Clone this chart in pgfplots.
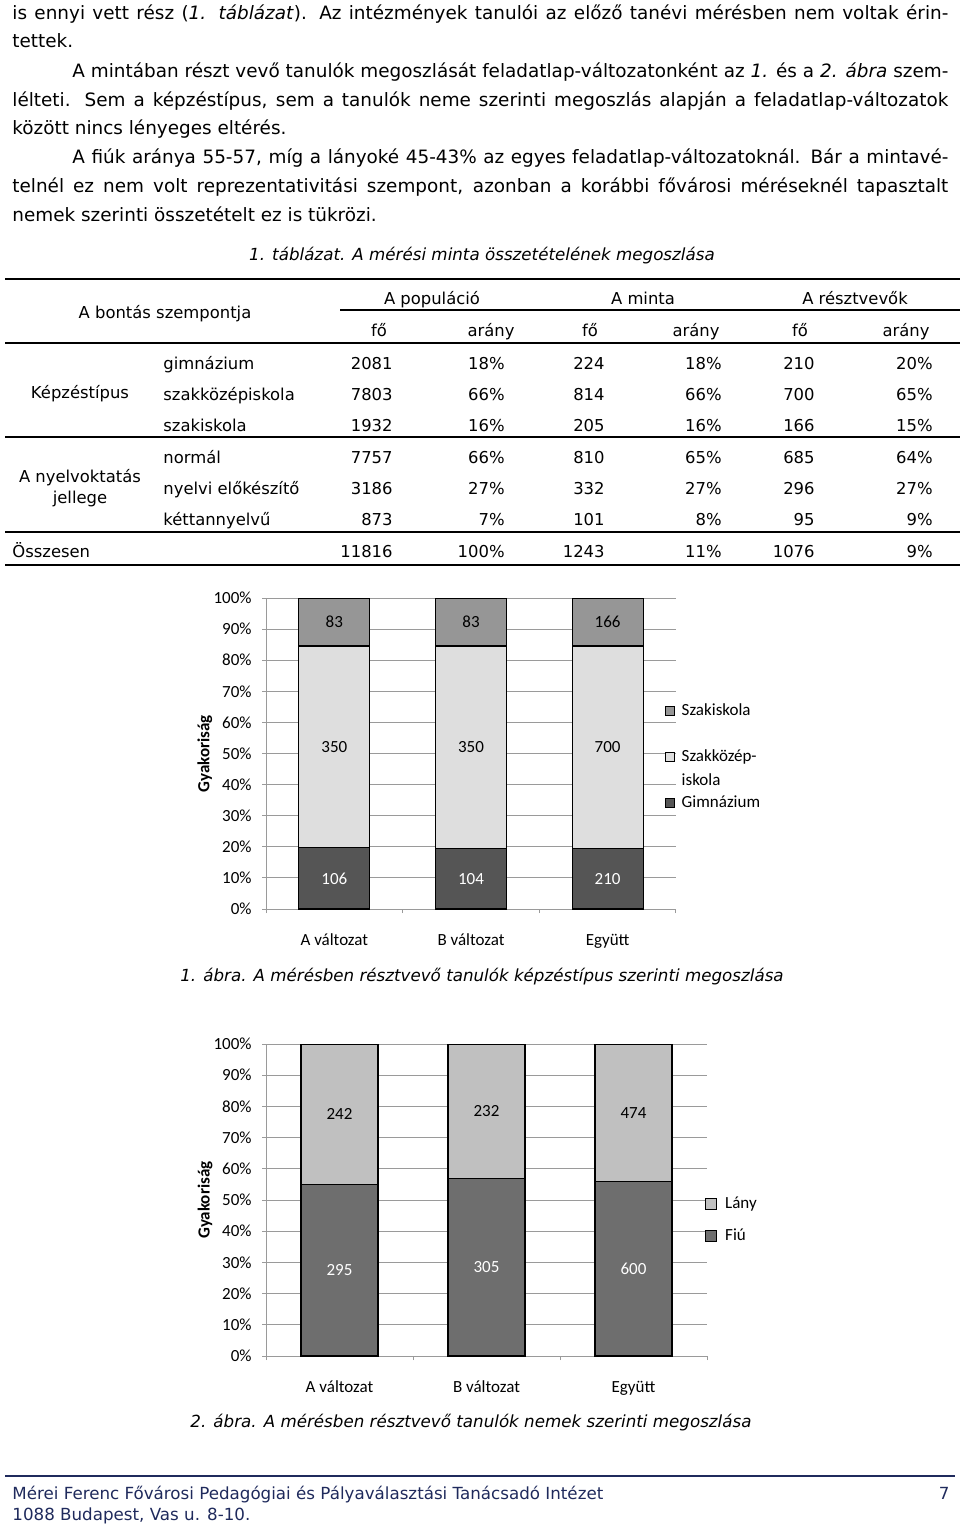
\documentclass[border=0pt]{standalone}
\usepackage{fontspec}
\setmainfont{DejaVu Sans}
\newfontfamily\calibri{Carlito}
\usepackage{pgfplots}
\usepackage{pgfplotstable}
\pgfplotsset{compat=1.18}

\definecolor{gim}{HTML}{555555}
\definecolor{szk}{HTML}{DEDEDE}
\definecolor{szi}{HTML}{969696}
\definecolor{lany}{HTML}{C0C0C0}
\definecolor{fiu}{HTML}{6E6E6E}
\definecolor{gridc}{HTML}{9A9A9A}
\definecolor{navy}{HTML}{1F2A5C}

\newcommand\bodyf{\fontsize{9.2}{11}\selectfont}
\newcommand\tabf{\fontsize{8.2}{10}\selectfont}
\newcommand\capf{\fontsize{8.35}{10}\selectfont}
\newcommand\tickf{\calibri\fontsize{8.5}{12}\selectfont}

\pgfplotstableread{
x g k s
0 106 350 83
1 104 350 83
2 210 700 166
}\tabA
\pgfplotstableread{
x f l
0 295 242
1 305 232
2 600 474
}\tabB

\pgfplotsset{
  chartbase/.style={
    anchor=south west, scale only axis,
    xmin=-0.5, xmax=2.5, ymin=0, ymax=100,
  },
  chartaxis/.style={
    chartbase,
    axis x line*=bottom, axis y line*=left,
    axis line style={gridc, line width=0.5pt},
    ymajorgrids, major grid style={gridc, line width=0.5pt},
    ytick={0,10,...,100},
    yticklabels={0\%,10\%,20\%,30\%,40\%,50\%,60\%,70\%,80\%,90\%,100\%},
    xtick={-0.5,0.5,1.5,2.5}, xticklabels={},
    extra x ticks={0,1,2},
    extra x tick labels={A változat,B változat,Együtt},
    extra x tick style={major tick length=0pt,
      xticklabel style={anchor=base, yshift=-18pt, inner sep=0pt}},
    tick align=outside, major tick length=2pt,
    tick style={gridc, line width=0.5pt},
    tick label style={font=\tickf},
    yticklabel style={anchor=east, inner sep=0pt, xshift=-5pt},
    ylabel={Gyakoriság},
    ylabel style={font=\tickf\bfseries, anchor=center},
    reverse legend,
  },
  lbl/.style={draw=none, nodes near coords, point meta=explicit symbolic,
    nodes near coords align={center},
    every node near coord/.append style={anchor=center, inner sep=0pt, font=\tickf, text=#1}},
}

\begin{document}
\begin{tikzpicture}[x=0.5pt,y=-0.5pt]
\useasboundingbox (0,0) rectangle (960,1526);

% ---------- body text ----------
\node[anchor=base west,inner sep=0] at (12,19) {\bodyf\hbox to 468pt{is ennyi vett rész (\textit{1. táblázat}). Az intézmények tanulói az előző tanévi mérésben nem voltak érin-}};
\node[anchor=base west,inner sep=0] at (12,47) {\bodyf tettek.};
\node[anchor=base west,inner sep=0] at (72,77) {\bodyf\hbox to 438pt{A mintában részt vevő tanulók megoszlását feladatlap-változatonként az \textit{1.} és a \textit{2. ábra} szem-}};
\node[anchor=base west,inner sep=0] at (12,106) {\bodyf\hbox to 468pt{lélteti. Sem a képzéstípus, sem a tanulók neme szerinti megoszlás alapján a feladatlap-változatok}};
\node[anchor=base west,inner sep=0] at (12,134) {\bodyf között nincs lényeges eltérés.};
\node[anchor=base west,inner sep=0] at (72,163) {\bodyf\hbox to 438pt{A fiúk aránya 55-57, míg a lányoké 45-43\% az egyes feladatlap-változatoknál. Bár a mintavé-}};
\node[anchor=base west,inner sep=0] at (12,192) {\bodyf\hbox to 468pt{telnél ez nem volt reprezentativitási szempont, azonban a korábbi fővárosi méréseknél tapasztalt}};
\node[anchor=base west,inner sep=0] at (12,221) {\bodyf nemek szerinti összetételt ez is tükrözi.};

% ---------- table ----------
\node[anchor=base,inner sep=0] at (482,260) {\capf\itshape 1. táblázat. A mérési minta összetételének megoszlása};
\draw[line width=1pt] (5,279) -- (960,279);
\draw[line width=0.6pt] (340,310) -- (960,310);
\draw[line width=0.8pt] (5,343) -- (960,343);
\draw[line width=0.8pt] (5,437) -- (960,437);
\draw[line width=0.8pt] (5,532) -- (960,532);
\draw[line width=1pt] (5,565) -- (960,565);
\begin{scope}[every node/.style={inner sep=0, font=\tabf}]
\node[anchor=base] at (165,318) {A bontás szempontja};
\node[anchor=base] at (432,304) {A populáció};
\node[anchor=base] at (643,304) {A minta};
\node[anchor=base] at (855,304) {A résztvevők};
\foreach \xa/\xb in {379/491,590/696,800/906}{
  \node[anchor=base] at (\xa,336) {fő};
  \node[anchor=base] at (\xb,336) {arány};
}
\node[anchor=base] at (80,398) {Képzéstípus};
\node[anchor=base] at (80,482) {A nyelvoktatás};
\node[anchor=base] at (80,503) {jellege};
\node[anchor=base west] at (12,557) {Összesen};
\foreach \y/\n in {369/gimnázium,400/szakközépiskola,431/szakiskola,463/normál,494/nyelvi előkészítő,525/kéttannyelvű}{
  \node[anchor=base west] at (163,\y) {\n};
}
\foreach \y/\a/\b/\c/\d/\e/\f in {369/2081/18/224/18/210/20,400/7803/66/814/66/700/65,431/1932/16/205/16/166/15,463/7757/66/810/65/685/64,494/3186/27/332/27/296/27,525/873/7/101/8/95/9,557/11816/100/1243/11/1076/9}{
  \node[anchor=base east] at (393,\y) {\a};
  \node[anchor=base east] at (505,\y) {\b\%};
  \node[anchor=base east] at (605,\y) {\c};
  \node[anchor=base east] at (722,\y) {\d\%};
  \node[anchor=base east] at (815,\y) {\e};
  \node[anchor=base east] at (933,\y) {\f\%};
}
\end{scope}

% ---------- chart 1 ----------
\begin{axis}[chartaxis,
  at={(133pt,-454.5pt)}, width=205pt, height=155.5pt,
  ybar stacked, bar width=35.5pt,
  ylabel style={at={(axis description cs:-0.149,0.5)}},
  legend image code/.code={\draw[#1, draw=black, line width=0.4pt] (0pt,-2.25pt) rectangle (4.5pt,2.25pt);},
  legend style={at={(0.973,0.674)}, anchor=north west, draw=none, fill=none,
    inner sep=0pt, outer sep=0pt, row sep=11.4pt, column sep=1.5pt, font=\tickf,
    cells={anchor=west, inner sep=1pt}},
]
\addplot[fill=gim, draw=black, line width=0.6pt] table[x=x, y expr={\thisrow{g}/(\thisrow{g}+\thisrow{k}+\thisrow{s})*100}]{\tabA};
\addlegendentry[text height=6pt, text depth=1.6pt]{Gimnázium}
\addplot[fill=szk, draw=black, line width=0.6pt] table[x=x, y expr={\thisrow{k}/(\thisrow{g}+\thisrow{k}+\thisrow{s})*100}]{\tabA};
\addlegendentry[text height=6pt, text depth=1.6pt]{\parbox[t]{60pt}{\raggedright Szakközép-\\iskola}}
\addplot[fill=szi, draw=black, line width=0.6pt] table[x=x, y expr={\thisrow{s}/(\thisrow{g}+\thisrow{k}+\thisrow{s})*100}]{\tabA};
\addlegendentry[text height=6pt, text depth=1.6pt]{Szakiskola}
\end{axis}
\begin{axis}[chartbase, hide axis, at={(133pt,-454.5pt)}, width=205pt, height=155.5pt]
\addplot[lbl=white] table[x=x, y expr={0.5*\thisrow{g}/(\thisrow{g}+\thisrow{k}+\thisrow{s})*100}, meta=g]{\tabA};
\addplot[lbl=black] table[x=x, y expr={(\thisrow{g}+0.5*\thisrow{k})/(\thisrow{g}+\thisrow{k}+\thisrow{s})*100}, meta=k]{\tabA};
\addplot[lbl=black] table[x=x, y expr={(\thisrow{g}+\thisrow{k}+0.5*\thisrow{s})/(\thisrow{g}+\thisrow{k}+\thisrow{s})*100}, meta=s]{\tabA};
\end{axis}
\node[anchor=base,inner sep=0] at (482,981) {\capf\itshape 1. ábra. A mérésben résztvevő tanulók képzéstípus szerinti megoszlása};

% ---------- chart 2 ----------
\begin{axis}[chartaxis,
  at={(133pt,-678pt)}, width=220.5pt, height=156pt,
  ybar stacked, bar width=38.5pt,
  ylabel style={at={(axis description cs:-0.138,0.5)}},
  legend image code/.code={\draw[#1, draw=black, line width=0.4pt] (0pt,-2.75pt) rectangle (5.5pt,2.75pt);},
  legend style={at={(0.9955,0.524)}, anchor=north west, draw=none, fill=none,
    inner sep=0pt, outer sep=0pt, row sep=4.4pt, column sep=2.2pt, font=\tickf,
    cells={anchor=west, inner sep=1pt}},
]
\addplot[fill=fiu, draw=black, line width=0.6pt] table[x=x, y expr={\thisrow{f}/(\thisrow{f}+\thisrow{l})*100}]{\tabB};
\addlegendentry[text height=6pt, text depth=1.6pt]{Fiú}
\addplot[fill=lany, draw=black, line width=0.6pt] table[x=x, y expr={\thisrow{l}/(\thisrow{f}+\thisrow{l})*100}]{\tabB};
\addlegendentry[text height=6pt, text depth=1.6pt]{Lány}
\end{axis}
\begin{axis}[chartbase, hide axis, at={(133pt,-678pt)}, width=220.5pt, height=156pt]
\addplot[lbl=white] table[x=x, y expr={0.5*\thisrow{f}/(\thisrow{f}+\thisrow{l})*100}, meta=f]{\tabB};
\addplot[lbl=black] table[x=x, y expr={(\thisrow{f}+0.5*\thisrow{l})/(\thisrow{f}+\thisrow{l})*100}, meta=l]{\tabB};
\end{axis}
\node[anchor=base,inner sep=0] at (471,1427) {\capf\itshape 2. ábra. A mérésben résztvevő tanulók nemek szerinti megoszlása};

% ---------- footer ----------
\draw[navy, line width=1.2pt] (5,1476) -- (955,1476);
\node[anchor=base west,inner sep=0,text=navy] at (12,1499) {\fontsize{8.35}{10}\selectfont Mérei Ferenc Fővárosi Pedagógiai és Pályaválasztási Tanácsadó Intézet};
\node[anchor=base east,inner sep=0,text=navy] at (950,1499) {\fontsize{8.35}{10}\selectfont 7};
\node[anchor=base west,inner sep=0,text=navy] at (12,1520) {\fontsize{8.35}{10}\selectfont 1088 Budapest, Vas u. 8-10.};
\end{tikzpicture}
\end{document}
